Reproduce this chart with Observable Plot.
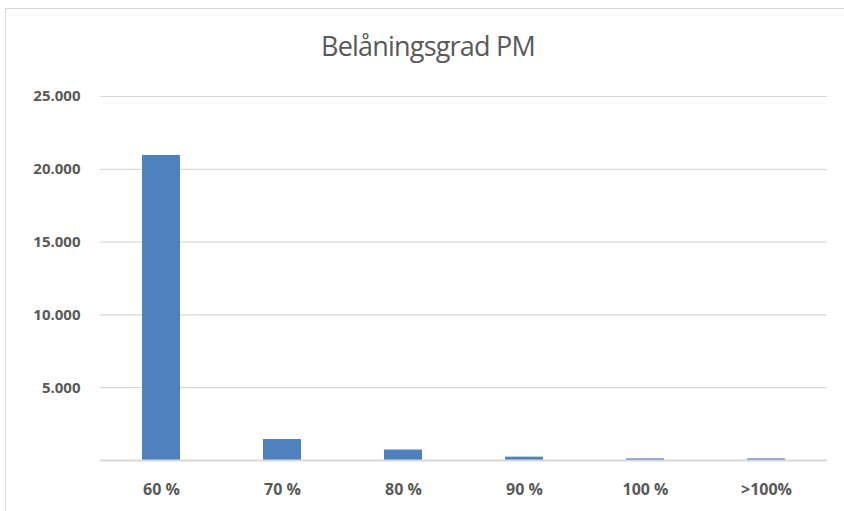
<!DOCTYPE html>
<html>
<head>
<meta charset="utf-8">
<script src="https://cdn.jsdelivr.net/npm/d3@7"></script>
<script src="https://cdn.jsdelivr.net/npm/@observablehq/plot@0.6"></script>
<style>
  html, body { margin: 0; padding: 0; background: #fff; }
  #wrap { position: relative; width: 844px; height: 511px; overflow: hidden; }
  #frame { position: absolute; left: 5px; top: 8px; width: 860px; height: 540px; border: 1px solid #d9d9d9; box-sizing: border-box; }
  #title { position: absolute; left: 0; width: 856px; top: 27px; text-align: center; font-family: "Open Sans", sans-serif; font-size: 27px; color: #595959; letter-spacing: -0.8px; }
  #chart { position: absolute; left: 0; top: 0; }
</style>
</head>
<body>
<div id="wrap">
  <div id="frame"></div>
  <div id="title">Belåningsgrad PM</div>
  <div id="chart"></div>
</div>
<script>
const categories = ["60 %", "70 %", "80 %", "90 %", "100 %", ">100%"];
const values = [20950, 1440, 720, 230, 110, 110];
const yTicks = [0, 5000, 10000, 15000, 20000, 25000];

const data = categories.map((c, i) => ({category: c, value: values[i]}));
const fmt = d => d === 0 ? "" : d3.format(",")(d).replace(/,/g, ".");

const chart = Plot.plot({
  width: 844,
  height: 511,
  marginLeft: 100,
  marginRight: 17,
  marginTop: 96,
  marginBottom: 51,
  style: {fontFamily: "'Open Sans', sans-serif", background: "transparent"},
  x: {domain: categories, paddingInner: 0.69, paddingOuter: 0.345, label: null},
  y: {domain: [0, 25000], label: null},
  marks: [
    Plot.ruleY(yTicks, {stroke: "#d9d9d9", strokeWidth: 1.2}),
    Plot.barY(data, {x: "category", y: "value", fill: "#4f81bd"}),
    Plot.ruleY([0], {stroke: "#d9d9d9", strokeWidth: 2}),
    Plot.axisY({ticks: yTicks, tickFormat: fmt, tickSize: 0, tickPadding: 20, fontSize: 15, fontWeight: "bold", fill: "#595959", letterSpacing: "-0.5px"}),
    Plot.axisX({tickSize: 0, tickPadding: 23, fontSize: 16, fontWeight: "bold", fill: "#595959", letterSpacing: "-0.5px"})
  ]
});
document.getElementById("chart").appendChild(chart);
</script>
</body>
</html>
